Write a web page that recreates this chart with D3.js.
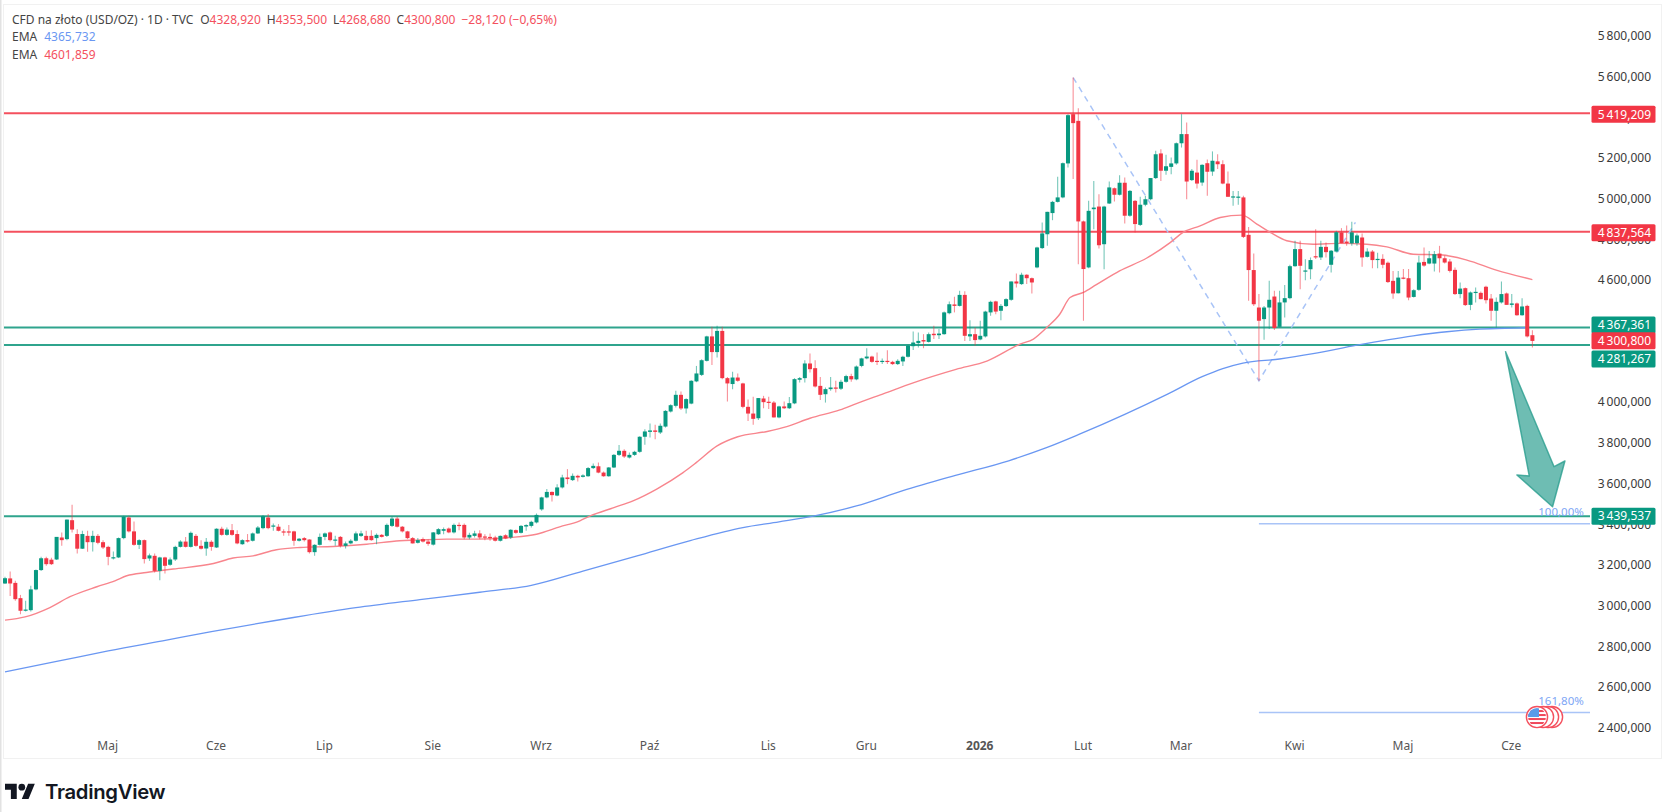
<!DOCTYPE html>
<html lang="pl">
<head>
<meta charset="utf-8">
<title>CFD na złoto (USD/OZ)</title>
<script src="https://cdn.jsdelivr.net/npm/d3@7/dist/d3.min.js"></script>
<style>
  html, body { margin: 0; padding: 0; background: #fff; }
  svg { display: block; }
  text { font-family: "Noto Sans", "Open Sans", sans-serif; }
</style>
</head>
<body>
<svg id="chart" width="1665" height="812"></svg>
<script>
// Daily gold candles, one entry per trading day.
const opens = [
  3109,3134,3112,3037,2975,2978,3080,3175,3233,3226,
  3227,3335,3327,3420,3352,3280,3343,3312,3343,3312,
  3289,3234,3237,3332,3433,3365,3299,3322,3232,3245,
  3171,3237,3201,3227,3289,3315,3289,3343,3294,3281,
  3314,3286,3378,3348,3371,3352,3302,3322,3319,3355,
  3381,3433,3389,3388,3365,3365,3365,3319,3332,3325,
  3263,3299,3338,3360,3322,3338,3294,3306,3319,3343,
  3343,3343,3332,3348,3343,3392,3428,3388,3365,3332,
  3309,3327,3315,3300,3351,3368,3379,3360,3397,3397,
  3335,3343,3355,3340,3338,3335,3319,3346,3335,3371,
  3358,3389,3392,3409,3473,3532,3559,3541,3581,3630,
  3617,3638,3633,3636,3676,3685,3654,3636,3679,3741,
  3761,3728,3741,3756,3830,3854,3861,3851,3880,3954,
  3982,4036,3969,3993,4102,4134,4203,4323,4246,4350,
  4118,4089,4121,4092,3977,3944,3921,4018,4002,3998,
  3925,3979,3970,3994,4110,4118,4190,4167,4080,4039,
  4064,4072,4066,4100,4128,4112,4178,4215,4224,4203,
  4200,4203,4198,4187,4200,4223,4275,4290,4305,4296,
  4336,4329,4334,4437,4480,4473,4527,4323,4334,4308,
  4323,4441,4495,4449,4472,4503,4593,4580,4626,4609,
  4662,4757,4825,4929,4984,5006,5173,5415,5382,4888,
  4662,4948,4961,4776,4976,5051,5019,5078,4916,4989,
  4871,4970,4997,5101,5222,5137,5156,5173,5272,5317,
  5091,5128,5079,5174,5133,5183,5169,5074,5008,5006,
  5006,4822,4649,4465,4408,4465,4519,4370,4490,4511,
  4668,4752,4642,4653,4717,4711,4763,4675,4740,4834,
  4789,4780,4781,4809,4714,4740,4699,4704,4685,4596,
  4535,4612,4609,4517,4552,4689,4681,4681,4730,4707,
  4691,4650,4531,4560,4478,4539,4537,4567,4509,4449,
  4490,4534,4478,4485,4427,4473,4328.92
];
const highs = [
  3142,3168,3122,3053,3024,3098,3178,3240,3240,3235,
  3338,3360,3423,3496,3376,3368,3368,3368,3352,3322,
  3294,3266,3335,3442,3442,3414,3327,3325,3256,3256,
  3240,3240,3237,3294,3322,3338,3364,3352,3322,3332,
  3322,3381,3388,3384,3401,3371,3327,3352,3360,3392,
  3446,3450,3404,3401,3376,3397,3368,3332,3338,3327,
  3302,3355,3360,3365,3343,3342,3315,3327,3365,3368,
  3368,3371,3355,3352,3404,3437,3437,3392,3368,3338,
  3332,3335,3325,3362,3381,3384,3384,3404,3409,3404,
  3358,3368,3371,3351,3355,3343,3345,3351,3376,3374,
  3397,3400,3417,3453,3535,3573,3561,3597,3643,3671,
  3650,3643,3646,3682,3699,3704,3659,3682,3745,3789,
  3769,3753,3761,3833,3867,3895,3889,3895,3961,3990,
  4056,4052,4019,4108,4178,4211,4326,4370,4375,4370,
  4124,4149,4141,4095,4013,4026,4020,4031,4026,4006,
  3982,4003,4025,4118,4124,4206,4239,4206,4124,4072,
  4124,4105,4110,4135,4140,4180,4218,4265,4228,4244,
  4215,4255,4203,4211,4228,4282,4347,4342,4334,4342,
  4375,4359,4445,4495,4518,4547,4545,4403,4367,4400,
  4449,4498,4498,4482,4511,4593,4632,4636,4629,4612,
  4763,4883,4935,4989,5107,5177,5415,5595,5444,4892,
  4989,5087,5022,4965,5084,5055,5115,5104,5042,4993,
  5009,5014,5101,5235,5243,5215,5202,5276,5415,5374,
  5145,5191,5169,5192,5232,5218,5189,5133,5038,5038,
  5014,4861,4730,4531,4473,4596,4547,4547,4576,4675,
  4793,4793,4702,4711,4850,4793,4784,4747,4842,4855,
  4868,4886,4829,4829,4756,4747,4734,4727,4691,4645,
  4645,4654,4654,4555,4719,4760,4743,4743,4768,4719,
  4703,4662,4588,4563,4544,4563,4544,4572,4531,4514,
  4593,4539,4531,4490,4511,4478,4353.5
];
const lows = [
  3106,3048,3024,2958,2972,2972,3076,3171,3196,3200,
  3224,3294,3322,3360,3257,3278,3265,3266,3302,3278,
  3199,3227,3234,3327,3360,3294,3278,3207,3220,3163,
  3125,3158,3196,3220,3286,3286,3286,3289,3276,3245,
  3270,3283,3343,3343,3343,3302,3299,3310,3315,3352,
  3376,3376,3368,3365,3343,3343,3294,3315,3315,3257,
  3245,3296,3322,3315,3294,3286,3281,3302,3315,3338,
  3319,3319,3302,3335,3338,3387,3384,3360,3327,3306,
  3306,3310,3295,3296,3348,3351,3356,3355,3371,3327,
  3327,3335,3327,3322,3319,3315,3315,3327,3328,3354,
  3355,3368,3384,3404,3466,3528,3512,3538,3576,3597,
  3613,3610,3630,3633,3672,3651,3633,3633,3676,3736,
  3725,3723,3736,3751,3791,3826,3818,3843,3875,3949,
  3974,3961,3944,3990,4098,4129,4200,4183,4219,4113,
  4003,4064,4100,3970,3908,3889,3912,3970,3966,3925,
  3921,3966,3966,3990,4097,4097,4146,4072,4010,3998,
  4056,4047,4060,4095,4100,4108,4172,4211,4193,4183,
  4187,4187,4183,4183,4178,4219,4256,4269,4265,4293,
  4310,4310,4331,4432,4441,4470,4301,4301,4277,4304,
  4318,4424,4432,4403,4468,4498,4563,4576,4580,4534,
  4658,4752,4768,4894,4981,5002,5153,5096,4678,4400,
  4658,4850,4755,4653,4973,4986,5015,4878,4911,4834,
  4866,4963,4992,5096,5087,5117,5120,5166,5251,4997,
  5087,5050,5063,5014,5112,5145,5071,5009,4965,4970,
  4806,4498,4473,4105,4306,4359,4354,4367,4416,4506,
  4665,4555,4599,4604,4703,4698,4711,4637,4735,4781,
  4768,4768,4768,4665,4711,4658,4658,4658,4586,4508,
  4534,4604,4501,4514,4547,4665,4678,4642,4637,4681,
  4637,4527,4511,4473,4452,4490,4506,4485,4400,4367,
  4485,4478,4465,4424,4424,4318,4268.68
];
const closes = [
  3135,3109,3032,2975,2981,3080,3175,3233,3204,3204,
  3338,3322,3423,3374,3280,3352,3312,3343,3309,3286,
  3240,3238,3332,3437,3365,3299,3322,3229,3247,3171,
  3237,3196,3227,3289,3315,3289,3358,3294,3280,3314,
  3289,3378,3348,3374,3348,3306,3322,3315,3355,3384,
  3440,3381,3394,3368,3361,3363,3319,3329,3322,3263,
  3299,3338,3355,3322,3325,3294,3306,3319,3355,3355,
  3322,3322,3348,3338,3397,3428,3388,3365,3332,3306,
  3322,3315,3304,3360,3376,3376,3360,3397,3396,3335,
  3348,3355,3335,3337,3335,3319,3343,3330,3373,3358,
  3392,3396,3412,3446,3532,3559,3543,3581,3630,3622,
  3638,3630,3640,3676,3687,3654,3636,3679,3741,3761,
  3733,3741,3756,3830,3856,3861,3854,3884,3957,3985,
  4036,3969,4015,4105,4141,4206,4323,4246,4350,4118,
  4092,4121,4105,3977,3944,3918,4020,4000,3997,3925,
  3979,3970,3995,4113,4118,4190,4162,4077,4036,4064,
  4072,4066,4100,4128,4112,4175,4215,4224,4198,4200,
  4203,4198,4187,4203,4223,4277,4293,4301,4298,4334,
  4329,4337,4441,4481,4473,4527,4326,4334,4305,4326,
  4445,4493,4445,4473,4506,4593,4583,4626,4609,4588,
  4760,4829,4935,4984,5006,5174,5410,5371,4888,4654,
  4940,4956,4771,4961,5055,5019,5078,4916,5038,4875,
  4970,4997,5101,5218,5137,5159,5173,5272,5317,5084,
  5137,5074,5166,5132,5186,5169,5074,5009,5011,5010,
  4812,4649,4481,4400,4465,4503,4364,4490,4511,4668,
  4752,4670,4647,4698,4714,4763,4737,4744,4835,4781,
  4781,4834,4819,4711,4740,4698,4704,4675,4590,4534,
  4612,4609,4514,4550,4686,4671,4707,4727,4707,4686,
  4645,4531,4558,4477,4539,4542,4506,4501,4449,4493,
  4531,4478,4485,4427,4470,4323,4300.8
];

// Slow exponential average, sampled as [session, price].
const emaBlue = [
  [0,2675],[10,2726],[20,2778],[31.3,2831],[40,2872],[55.9,2942],[68,2990],[80.4,3030],
  [92,3066],[102,3100],[112,3170],[122.5,3245],[132.8,3320],[143,3384],[150,3412],[156.4,3439],
  [165,3490],[174,3565],[184.2,3640],[194.5,3712],[201.7,3775],[208,3840],[217,3940],[225.4,4041],
  [232,4125],[236,4165],[239.9,4192],[247,4212],[253.5,4238],[262,4280],[272.9,4326],[279.4,4346],
  [285.8,4359],[292.3,4364],[295.2,4365.7]
];
// Fast exponential average, sampled as [session, price].
const emaRed = [
  [0,2929],[3.9,2945],[8.7,2991],[12.6,3044],[17.8,3093],[21.3,3122],[23.6,3147],[27.4,3163],
  [32.6,3180],[40.4,3207],[44.2,3234],[48.1,3245],[52.6,3275],[57.2,3286],[63.6,3291],
  [70.1,3302],[76.5,3319],[79.8,3322],[85.6,3327],[91.4,3327],[97.9,3335],[103,3351],
  [107.5,3387],[111.4,3417],[113.4,3441],[118,3482],[121.7,3515],[126.3,3573],[131.4,3654],
  [134,3704],[138,3785],[142,3830],[147.7,3856],[151.5,3880],[156,3921],[161.8,3962],
  [165,3993],[170.3,4042],[176,4095],[184.3,4161],[190.4,4203],[196.7,4285],[199.3,4310],
  [201.9,4367],[204.4,4432],[206.4,4514],[209,4539],[211.5,4577],[216,4645],[221.2,4707],
  [225.8,4784],[228.3,4834],[231.6,4866],[235.5,4907],[239.7,4919],[242.6,4875],[245.2,4834],
  [248.4,4793],[253.5,4776],[258.7,4780],[263.9,4776],[267.8,4763],[272.9,4727],[278.1,4724],
  [283.3,4698],[289,4649],[296,4601.859]
];

const resistanceLevels = [5419.209, 4837.564];
const supportLevels = [4367.361, 4281.267, 3439.537];
const lastClose = 4300.8;

// 4 200 and 4 400 sit under the price tags and are left out of the scale.
const priceTicks = [2400,2600,2800,3000,3200,3400,3600,3800,4000,4600,4800,5000,5200,5400,5600,5800];
const monthSessions = [20, 41, 62, 83, 104, 125, 148, 167, 189, 209, 228, 250, 271, 292];
const monthLabels = ["Maj", "Cze", "Lip", "Sie", "Wrz", "Paź", "Lis", "Gru", "2026", "Lut", "Mar", "Kwi", "Maj", "Cze"];

// Zigzag the Fibonacci projection is built on, as [session, price].
const fibZigzag = [[207, 5595], [243, 4105], [261.7, 4883]];
const fibLevels = [3402, 2475];
const fibLabels = ["100,00%", "161,80%"];
const fibStartSession = 243;

// Outline of the hand-drawn down arrow, as [session, price].
const arrowOutline = [[290.8,4248],[300.2,3683],[302.3,3711],[299.9,3486],[293,3642],[295.4,3637]];

const legendOhlc = [["O","4328,920"],["H","4353,500"],["L","4268,680"],["C","4300,800"]];
const legendChange = "−28,120 (−0,65%)";

const GREEN = "#089981", RED = "#f23645", BLUE = "#6a97f2";
const LINE_GREEN = "#2fa48d", LINE_RED = "#f4505e", FIB = "#a9c4f7";

const svg = d3.select("#chart");
const plotRight = 1590, axisText = 1651;

const x = d3.scaleLinear().domain([0, 296]).range([5, 1532.4]);
const y = d3.scaleLinear().domain([2400, 5800]).range([727.8, 35.8]);

// Page frame around the chart pane.
svg.append("rect").attr("x", 0).attr("y", 0).attr("width", 1.5).attr("height", 812).attr("fill", "#e2e2e2");
svg.append("rect").attr("x", 3.5).attr("y", 4.5).attr("width", 1658).attr("height", 754)
  .attr("fill", "#fff").attr("stroke", "#f1f1f1");

// Price scale.
const priceFormat = d3.formatLocale({ decimal: ",", thousands: "\u2009", grouping: [3], currency: ["", ""] }).format(",.3f");
const yAxis = svg.append("g").attr("transform", `translate(${axisText},0)`)
  .call(d3.axisLeft(y).tickValues(priceTicks).tickFormat(priceFormat).tickSize(0).tickPadding(0));
yAxis.select(".domain").remove();
yAxis.selectAll("text").attr("fill", "#3a3a3a").style("font-size", "12px");

// Time scale.
const xAxis = svg.append("g").attr("transform", "translate(-1,741)")
  .call(d3.axisBottom(x).tickValues(monthSessions).tickFormat((d, i) => monthLabels[i]).tickSize(0).tickPadding(0));
xAxis.select(".domain").remove();
xAxis.selectAll("text").attr("fill", "#555").style("font-size", "12px")
  .style("font-weight", (d, i) => monthLabels[i] === "2026" ? 700 : 400);

// Horizontal levels.
const levelLine = (level, color) => svg.append("line")
  .attr("x1", 4).attr("x2", plotRight).attr("y1", y(level)).attr("y2", y(level))
  .attr("stroke", color).attr("stroke-width", 2);
resistanceLevels.forEach(l => levelLine(l, LINE_RED));
supportLevels.forEach(l => levelLine(l, LINE_GREEN));

// Fibonacci projection lines and their captions.
fibLevels.forEach((level, i) => {
  svg.append("line").attr("x1", x(fibStartSession)).attr("x2", plotRight)
    .attr("y1", y(level)).attr("y2", y(level)).attr("stroke", FIB).attr("stroke-width", 1.5);
  svg.append("text").attr("x", 1561).attr("y", y(level) - 8).attr("text-anchor", "middle")
    .attr("fill", "#7ea6f5").style("font-size", "11.5px").text(fibLabels[i]);
});

// Dashed zigzag.
const pointLine = d3.line().x(d => x(d[0])).y(d => y(d[1]));
svg.append("path").attr("d", pointLine(fibZigzag)).attr("fill", "none")
  .attr("stroke", FIB).attr("stroke-width", 1.5).attr("stroke-dasharray", "6 5");

// Moving averages.
const emaLine = d3.line().x(d => x(d[0])).y(d => y(d[1])).curve(d3.curveMonotoneX);
svg.append("path").attr("d", emaLine(emaRed)).attr("fill", "none").attr("stroke", "#f8858d").attr("stroke-width", 1.4);
svg.append("path").attr("d", emaLine(emaBlue)).attr("fill", "none").attr("stroke", BLUE).attr("stroke-width", 1.3);

// Candles.
const sessions = d3.range(opens.length);
const bodyWidth = 4;
const candles = svg.append("g").selectAll("g").data(sessions).join("g");
const tone = i => closes[i] >= opens[i] ? GREEN : RED;
candles.append("line")
  .attr("x1", i => x(i)).attr("x2", i => x(i))
  .attr("y1", i => y(highs[i])).attr("y2", i => y(lows[i]))
  .attr("stroke", tone).attr("stroke-width", 1.1).attr("stroke-opacity", 0.55);
candles.append("rect")
  .attr("x", i => x(i) - bodyWidth / 2).attr("width", bodyWidth)
  .attr("y", i => y(Math.max(opens[i], closes[i])))
  .attr("height", i => Math.max(1.2, Math.abs(y(opens[i]) - y(closes[i]))))
  .attr("fill", tone);

// Down arrow.
svg.append("path")
  .attr("d", d3.line().x(d => x(d[0])).y(d => y(d[1]))(arrowOutline) + "Z")
  .attr("fill", "#2a9d8f").attr("fill-opacity", 0.68)
  .attr("stroke", "#2a9d8f").attr("stroke-opacity", 0.8).attr("stroke-width", 1.5).attr("stroke-linejoin", "round");

// Economic event markers: stacked rings with a flag on the front one.
const eventY = y(fibLevels[1]) + 4.5;
const eventCenters = [1552, 1548, 1543, 1537];
const defs = svg.append("defs");
defs.append("clipPath").attr("id", "flagClip").append("circle").attr("cx", eventCenters[3]).attr("cy", eventY).attr("r", 9);
eventCenters.forEach(cx => {
  svg.append("circle").attr("cx", cx).attr("cy", eventY).attr("r", 10.6)
    .attr("fill", "#fff").attr("stroke", "#f4505e").attr("stroke-width", 1.4);
});
const flag = svg.append("g").attr("clip-path", "url(#flagClip)");
const fx = eventCenters[3] - 9, fy = eventY - 9;
flag.append("rect").attr("x", fx).attr("y", fy).attr("width", 18).attr("height", 18).attr("fill", "#fff");
[1, 5, 9, 13].forEach(dy => flag.append("rect").attr("x", fx).attr("y", fy + dy + 1).attr("width", 18).attr("height", 2).attr("fill", "#f0485a"));
flag.append("rect").attr("x", fx).attr("y", fy).attr("width", 11).attr("height", 9).attr("fill", "#5a9be8");

// Price tags on the scale; crowded tags are nudged apart.
const tags = [
  { value: resistanceLevels[0], fill: RED, shift: 1 },
  { value: resistanceLevels[1], fill: RED, shift: 1 },
  { value: supportLevels[0], fill: GREEN, shift: -2.5 },
  { value: lastClose, fill: RED, shift: -0.3 },
  { value: supportLevels[1], fill: GREEN, shift: 14 },
  { value: supportLevels[2], fill: GREEN, shift: 0 }
];
tags.forEach(t => {
  const cy = y(t.value) + t.shift;
  svg.append("rect").attr("x", 1591.5).attr("y", cy - 8.5).attr("width", 64).attr("height", 17)
    .attr("rx", 1.5).attr("fill", t.fill);
  svg.append("text").attr("x", axisText).attr("y", cy).attr("dy", "0.35em").attr("text-anchor", "end")
    .attr("fill", "#fff").style("font-size", "12px").text(priceFormat(t.value));
});

// Legend.
const legend = svg.append("g").style("font-size", "12px");
const row1 = legend.append("text").attr("x", 12).attr("y", 24).attr("fill", "#444");
row1.append("tspan").text("CFD na złoto (USD/OZ) · 1D · TVC");
legendOhlc.forEach((pair, i) => {
  row1.append("tspan").attr("dx", i === 0 ? 7 : 6).attr("fill", "#444").text(pair[0]);
  row1.append("tspan").attr("fill", LINE_RED).text(pair[1]);
});
row1.append("tspan").attr("dx", 6).attr("fill", LINE_RED).text(legendChange);
const emaLegend = [["EMA", "4365,732", BLUE, 41], ["EMA", "4601,859", LINE_RED, 59]];
emaLegend.forEach(r => {
  const row = legend.append("text").attr("x", 12).attr("y", r[3]).attr("fill", "#444");
  row.append("tspan").text(r[0]);
  row.append("tspan").attr("dx", 7).attr("fill", r[2]).text(r[1]);
});

// Wordmark.
const logo = svg.append("g").attr("transform", "translate(5,780.5) scale(0.84)").attr("fill", "#131722");
logo.append("path").attr("d", "M14 22H7V11H0V4h14v18zM28 22h-8l7.5-18h8L28 22z");
logo.append("circle").attr("cx", 20).attr("cy", 8).attr("r", 4);
svg.append("text").attr("x", 45).attr("y", 798.5).attr("fill", "#131722")
  .style("font-family", "Inter, sans-serif").style("font-weight", 600).style("font-size", "20.3px")
  .style("letter-spacing", "-0.3px").text("TradingView");
</script>
</body>
</html>
